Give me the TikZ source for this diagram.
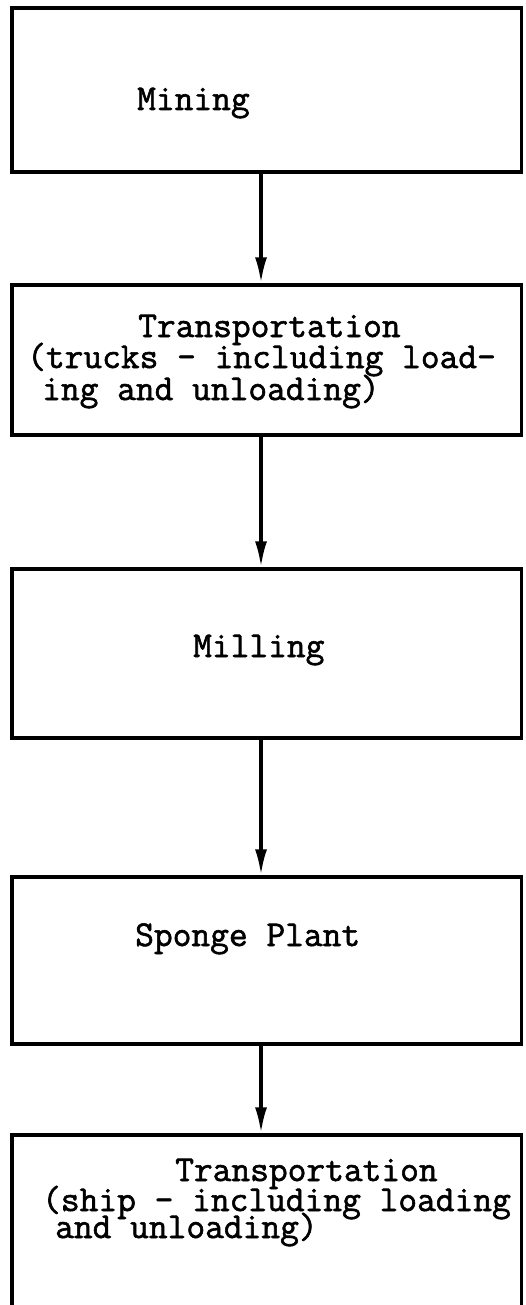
\documentclass[tikz,border=0pt]{standalone}
\usepackage{fontspec}
\newfontfamily\typewriter{Latin Modern Mono}[FakeBold=1.6]
\usetikzlibrary{arrows.meta}
\begin{document}
\begin{tikzpicture}[x=1pt,y=-1pt,
  stagebox/.style={draw, line width=3.2pt, minimum width=509.5pt, inner sep=0pt},
  stagetext/.style={anchor=base west, inner sep=0pt,
    font=\typewriter\fontsize{36.4}{31}\selectfont},
  flow/.style={line width=3.4pt, -{Latex[length=26pt,width=12pt]}}]
  \clip (0,0) rectangle (525,1305);
  \fill[white] (0,0) rectangle (525,1305);

  % process stages
  \node[stagebox, minimum height=164pt] (mining)  at (266.75,90)    {};
  \node[stagebox, minimum height=150pt] (truck)   at (266.75,360)   {};
  \node[stagebox, minimum height=169pt] (milling) at (266.75,653.5) {};
  \node[stagebox, minimum height=167pt] (sponge)  at (266.75,960.5) {};
  \node[stagebox, minimum height=200pt] (ship)    at (266.75,1235)  {};

  % stage labels
  \node[stagetext] (miningA)  at (137,110)  {Mining};
  \node[stagetext] (truckA)   at (138,337)  {Transportation};
  \node[stagetext] (truckB)   at (27,368)   {(trucks - including load-};
  \node[stagetext] (truckC)   at (42,400)   {ing and unloading)};
  \node[stagetext] (millingA) at (193,657)  {Milling};
  \node[stagetext] (spongeA)  at (135,946)  {Sponge Plant};
  \node[stagetext] (shipA)    at (175,1181) {Transportation};
  \node[stagetext] (shipB)    at (42,1211)  {(ship - including loading};
  \node[stagetext] (shipC)    at (55,1238)  {and unloading)};

  % flow between stages
  \coordinate (ax) at (261,0);
  \draw[flow] (mining.south -| ax)  -- (truck.north -| ax);
  \draw[flow] (truck.south -| ax)   -- (milling.north -| ax);
  \draw[flow] (milling.south -| ax) -- (sponge.north -| ax);
  \draw[flow] (sponge.south -| ax)  -- (ship.north -| ax);
\end{tikzpicture}
\end{document}
